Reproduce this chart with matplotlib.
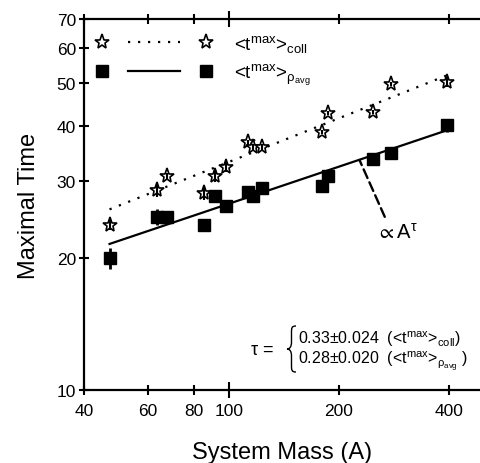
import matplotlib
matplotlib.use('Agg')
import matplotlib.pyplot as plt
from matplotlib.lines import Line2D
from matplotlib.legend_handler import HandlerTuple
from matplotlib.path import Path
from matplotlib.patches import PathPatch
from matplotlib.transforms import ScaledTranslation
import numpy as np

plt.rcParams['font.family'] = ['Liberation Sans', 'DejaVu Sans']
plt.rcParams['mathtext.fontset'] = 'custom'
plt.rcParams['mathtext.rm'] = 'Liberation Sans'
plt.rcParams['mathtext.it'] = 'Liberation Sans:italic'
plt.rcParams['mathtext.bf'] = 'Liberation Sans:bold'
plt.rcParams['mathtext.default'] = 'regular'

# valori
mass = [47, 63.4, 67.5, 85.3, 91.3, 98, 112.5, 116, 123, 179.6, 186.5, 247.7, 278, 395]
t_coll = [23.8, 28.5, 30.7, 28.1, 30.7, 32.2, 36.7, 35.8, 35.8, 38.7, 42.8, 43.0, 49.8, 50.3]
err_coll = [0.6, 1.0, 0.5, 1.0, 1.0, 0.8, 0.5, 0.5, 0.5, 0.5, 0.5, 0.5, 0.5, 1.3]
t_rho = [20.0, 24.8, 24.8, 23.8, 27.7, 26.2, 28.3, 27.7, 28.8, 29.2, 30.7, 33.6, 34.7, 40.1]
err_rho = [1.1, 1.0, 0.4, 0.4, 0.4, 0.4, 0.4, 0.4, 0.4, 0.4, 0.4, 0.4, 0.4, 1.4]

# fit a legge di potenza A*m^tau
A_coll, tau_coll = 7.24, 0.33
A_rho, tau_rho = 7.32, 0.28

xticks_major = [100]
xticks_minor = [40, 60, 80, 200, 400]
yticks = [10, 20, 30, 40, 50, 60, 70]

lab_coll = '<t$^{max}$>$_{coll}$'
lab_rho = r'<t$^{max}$>$_{\rho_{avg}}$'

fig = plt.figure(figsize=(4.8, 4.64), dpi=100)
ax = fig.add_axes([84/480, 73/464, 1 - 84/480, 371/464])

mfit = np.geomspace(min(mass), max(mass), 60)
ax.plot(mfit, A_coll * mfit**tau_coll, color='k', lw=1.6, ls=(0, (1, 3.5)), zorder=2)
ax.plot(mfit, A_rho * mfit**tau_rho, color='k', lw=1.6, zorder=2)

ax.plot(mass, t_coll, ls='none', marker='*', ms=11, mfc='white', mec='k', mew=1.2, zorder=3)
ax.errorbar(mass, t_coll, yerr=err_coll, fmt='none', ecolor='k', elinewidth=1.5, capsize=0, zorder=4)
ax.errorbar(mass, t_rho, yerr=err_rho, fmt='s', ms=8.5, color='k', elinewidth=2, capsize=0, zorder=3)

ax.set_xscale('log')
ax.set_yscale('log')
ax.set_xlim(40, 487)
ax.set_ylim(10, 70)

ax.set_xticks(xticks_major, [str(v) for v in xticks_major])
ax.set_xticks(xticks_minor, [str(v) for v in xticks_minor], minor=True)
ax.set_yticks(yticks, [str(v) for v in yticks])
ax.yaxis.set_minor_locator(matplotlib.ticker.NullLocator())
ax.tick_params(axis='x', which='major', direction='inout', length=11.5, width=1.5,
               top=True, labelsize=12.5, pad=3.8)
ax.tick_params(axis='x', which='minor', direction='inout', length=7.2, width=1.5,
               top=True, labelsize=12.5, pad=6)
ax.tick_params(axis='y', which='major', direction='inout', length=6.5, width=1.5,
               labelsize=12.5, pad=2.5)
for s in ['left', 'bottom', 'top']:
    ax.spines[s].set_linewidth(1.6)
ax.spines['right'].set_visible(False)

ax.set_xlabel('System Mass (A)', fontsize=17, labelpad=16.5)
ax.set_ylabel('Maximal Time', fontsize=17, labelpad=12)

star = Line2D([], [], ls='none', marker='*', ms=11, mfc='white', mec='k', mew=1.2)
sq = Line2D([], [], ls='none', marker='s', ms=8.5, color='k')
dot = Line2D([], [], color='k', lw=1.6, ls=(0, (1, 3.5)))
sol = Line2D([], [], color='k', lw=1.6)
leg = ax.legend([(star, dot, star), (sq, sol, sq)], [lab_coll, lab_rho],
                handler_map={tuple: HandlerTuple(ndivide=None, pad=0)},
                loc='upper left', bbox_to_anchor=(76/480, 1 - 34/464), bbox_transform=fig.transFigure,
                frameon=False, fontsize=13.5, handlelength=8.3, handletextpad=0.1,
                borderpad=0, borderaxespad=0, labelspacing=0.4)

ax.annotate('', xy=(228, 33.3), xytext=(267, 24.8),
            arrowprops=dict(arrowstyle='-', ls=(0, (4, 2)), lw=1.7, color='k',
                            shrinkA=0, shrinkB=0))
ax.text(252, 22.9, r'$\propto A^{\tau}$', fontsize=14.5, va='center', ha='left')

# parentesi graffa disegnata a mano (in pixel, convertiti in pollici)
w, h = 9, 46
verts = np.array([(w, h/2), (w/2, h/2), (w/2, h/2 - 2), (w/2, h/2 - 7),
                  (w/2, 7),
                  (w/2, 1.5), (w/4, 0), (0, 0),
                  (w/4, 0), (w/2, -1.5), (w/2, -7),
                  (w/2, -h/2 + 7),
                  (w/2, -h/2 + 2), (w/2, -h/2), (w, -h/2)]) / 100.0
codes = [Path.MOVETO, Path.CURVE4, Path.CURVE4, Path.CURVE4, Path.LINETO,
         Path.CURVE4, Path.CURVE4, Path.CURVE4, Path.CURVE4, Path.CURVE4, Path.CURVE4,
         Path.LINETO, Path.CURVE4, Path.CURVE4, Path.CURVE4]
brace_tr = fig.dpi_scale_trans + ScaledTranslation(0.5126, 0.1105, ax.transAxes)
ax.add_artist(PathPatch(Path(verts, codes), fill=False, lw=1.0, color='k',
                        transform=brace_tr, clip_on=False))

ax.text(0.449, 0.097, r'$\tau$ =', transform=ax.transAxes, fontsize=13, ha='center', va='baseline')
ax.text(0.540, 0.127, '0.33±0.024  (' + lab_coll + ')', transform=ax.transAxes,
        fontsize=11.5, ha='left', va='baseline')
ax.text(0.540, 0.073, '0.28±0.020  (' + lab_rho + ' )', transform=ax.transAxes,
        fontsize=11.5, ha='left', va='baseline')

fig.savefig('out.png', dpi=100)
